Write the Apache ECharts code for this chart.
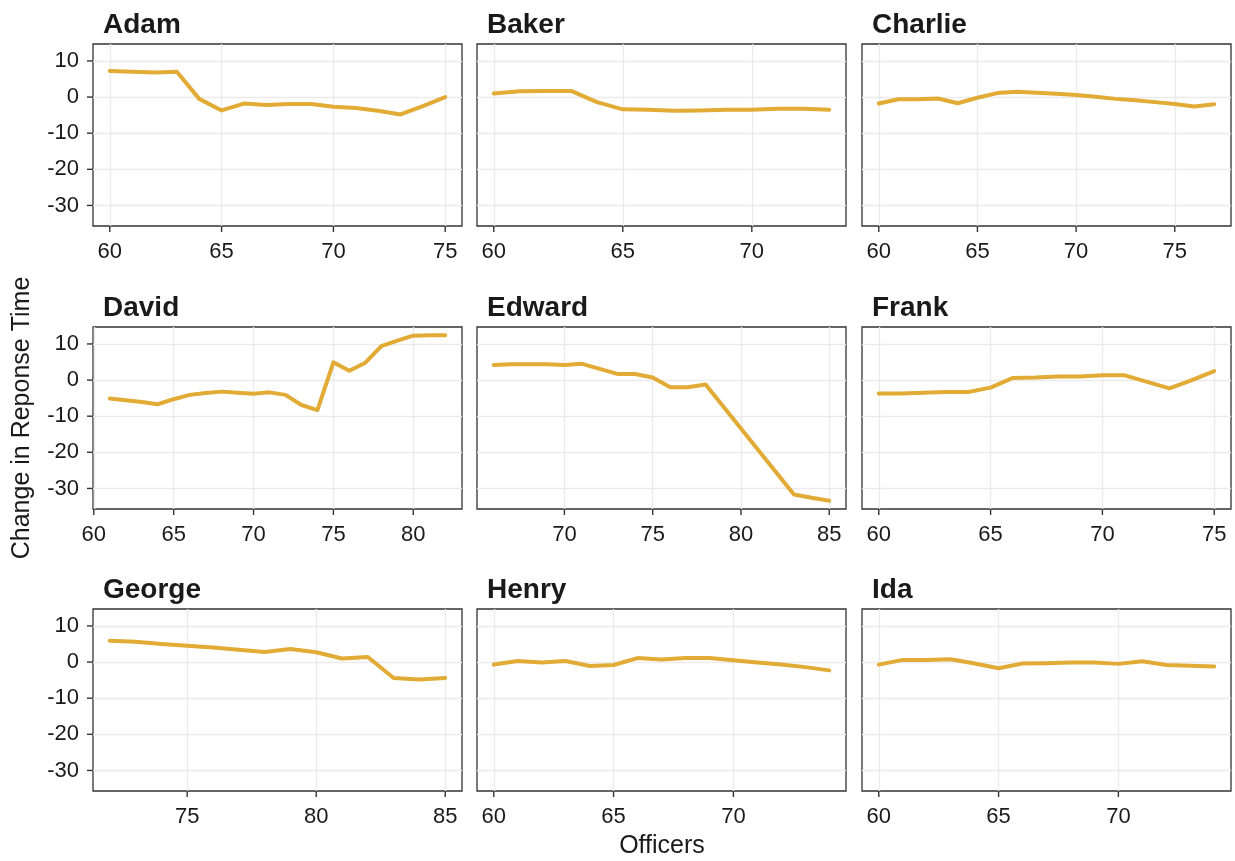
<!DOCTYPE html>
<html>
<head>
<meta charset="utf-8">
<script src="https://cdn.jsdelivr.net/npm/echarts@6/dist/echarts.min.js"></script>
<style>
html,body{margin:0;padding:0;background:#fff;}
#chart{width:1235px;height:861px;}
</style>
</head>
<body>
<div id="chart"></div>
<script>
// ---- data ----
const officers = ['Adam','Baker','Charlie','David','Edward','Frank','George','Henry','Ida'];

const adamX = [60,61,62,63,64,65,66,67,68,69,70,71,72,73,74,75];
const adamY = [7.2,7.0,6.8,7.0,-0.5,-3.7,-1.8,-2.2,-1.9,-1.9,-2.7,-3.0,-3.8,-4.8,-2.5,0.0];

const bakerX = [60,61,62,63,64,65,66,67,68,69,70,71,72,73];
const bakerY = [1.0,1.6,1.7,1.7,-1.4,-3.4,-3.5,-3.8,-3.7,-3.5,-3.5,-3.2,-3.2,-3.5];

const charlieX = [60,61,62,63,64,65,66,67,68,69,70,71,72,73,74,75,76,77];
const charlieY = [-1.8,-0.6,-0.6,-0.4,-1.7,-0.2,1.1,1.5,1.2,0.9,0.6,0.1,-0.5,-0.9,-1.4,-1.9,-2.6,-2.0];

const davidX = [61,62,63,64,65,66,67,68,69,70,71,72,73,74,75,76,77,78,79,80,81,82];
const davidY = [-5.1,-5.6,-6.1,-6.7,-5.3,-4.1,-3.6,-3.2,-3.5,-3.8,-3.4,-4.1,-6.9,-8.3,4.9,2.6,4.8,9.4,10.9,12.3,12.4,12.4];

const edwardX = [66,67,68,69,70,71,72,73,74,75,76,77,78,79,80,81,82,83,84,85];
const edwardY = [4.2,4.4,4.4,4.4,4.2,4.5,3.1,1.7,1.7,0.7,-2.0,-2.0,-1.2,-7.3,-13.4,-19.5,-25.6,-31.7,-32.6,-33.4];

const frankX = [60,61,62,63,64,65,66,67,68,69,70,71,72,73,74,75];
const frankY = [-3.7,-3.7,-3.5,-3.3,-3.3,-2.1,0.6,0.7,1.0,1.0,1.3,1.3,-0.5,-2.3,0.0,2.5];

const georgeX = [72,73,74,75,76,77,78,79,80,81,82,83,84,85];
const georgeY = [5.9,5.6,5.0,4.5,4.0,3.4,2.8,3.6,2.7,1.0,1.4,-4.4,-4.8,-4.4];

const henryX = [60,61,62,63,64,65,66,67,68,69,70,71,72,73,74];
const henryY = [-0.7,0.3,-0.1,0.3,-1.1,-0.8,1.1,0.7,1.1,1.1,0.5,-0.1,-0.7,-1.4,-2.3];

const idaX = [60,61,62,63,64,65,66,67,68,69,70,71,72,73,74];
const idaY = [-0.7,0.6,0.6,0.8,-0.4,-1.7,-0.4,-0.3,-0.1,-0.1,-0.5,0.2,-0.8,-1.0,-1.2];

// tick labels
const yTicks = [-30,-20,-10,0,10];
const adamTicks = [60,65,70,75];
const bakerTicks = [60,65,70];
const charlieTicks = [60,65,70,75];
const davidTicks = [60,65,70,75,80];
const edwardTicks = [70,75,80,85];
const frankTicks = [60,65,70,75];
const georgeTicks = [75,80,85];
const henryTicks = [60,65,70];
const idaTicks = [60,65,70];

const xTitle = 'Officers';
const yTitle = 'Change in Reponse Time';

// ---- layout ----
const xs = [adamX,bakerX,charlieX,davidX,edwardX,frankX,georgeX,henryX,idaX];
const ys = [adamY,bakerY,charlieY,davidY,edwardY,frankY,georgeY,henryY,idaY];
const xt = [adamTicks,bakerTicks,charlieTicks,davidTicks,edwardTicks,frankTicks,georgeTicks,henryTicks,idaTicks];

const lefts = [93, 477, 862];
const tops = [44, 327, 609];
const W = 369, H = 182;
const FONT = '"Liberation Sans", Arial, sans-serif';
const LINE = '#E1AB35';
const INK = '#333333';
const TICK_LEN = 6;

// shared y range with 5% expansion
let allY = [].concat(...ys);
const yMinD = Math.min(...allY), yMaxD = Math.max(...allY);
const yPad = (yMaxD - yMinD) * 0.05;
const yLo = yMinD - yPad, yHi = yMaxD + yPad;

function tickSeries(i, data, dir) {
  return {type: 'custom', xAxisIndex: i, yAxisIndex: i, silent: true, clip: false, z: 5,
    data: data,
    renderItem: function (params, api) {
      const p = api.coord([api.value(0), api.value(1)]);
      const shape = dir === 'x'
        ? {x1: p[0], y1: p[1], x2: p[0], y2: p[1] + TICK_LEN}
        : {x1: p[0] - TICK_LEN, y1: p[1], x2: p[0], y2: p[1]};
      return {type: 'line', shape: shape, style: {stroke: INK, lineWidth: 1.4}};
    }};
}

const grids = [], xAxes = [], yAxes = [], series = [], graphics = [];
officers.forEach((name, i) => {
  const r = Math.floor(i / 3), c = i % 3;
  grids.push({left: lefts[c], top: tops[r], width: W, height: H, show: true,
    borderColor: INK, borderWidth: 1.3, backgroundColor: 'transparent', containLabel: false});
  const xmin = Math.min(...xs[i]), xmax = Math.max(...xs[i]);
  const pad = (xmax - xmin) * 0.05;
  const xLo = xmin - pad, xHi = xmax + pad;
  xAxes.push({type: 'value', gridIndex: i, min: xLo, max: xHi, position: 'bottom',
    axisLine: {show: false, onZero: false},
    axisTick: {show: false, customValues: xt[i]},
    axisLabel: {show: true, customValues: xt[i], color: '#1a1a1a', fontSize: 22, fontFamily: FONT, margin: 15},
    splitLine: {show: true, lineStyle: {color: '#EBEBEB', width: 1.4}}
  });
  yAxes.push({type: 'value', gridIndex: i, min: yLo, max: yHi, position: 'left',
    axisLine: {show: false, onZero: false},
    axisTick: {show: false, customValues: yTicks},
    axisLabel: {show: c === 0, customValues: yTicks, color: '#1a1a1a', fontSize: 22, fontFamily: FONT, margin: 14},
    splitLine: {show: true, lineStyle: {color: '#EBEBEB', width: 1.4}}
  });
  series.push({type: 'line', xAxisIndex: i, yAxisIndex: i, showSymbol: false, silent: true,
    data: xs[i].map((x, k) => [x, ys[i][k]]),
    lineStyle: {color: LINE, width: 4, cap: 'round', join: 'round'}, z: 3});
  series.push(tickSeries(i, xt[i].map(v => [v, yLo]), 'x'));
  if (c === 0) series.push(tickSeries(i, yTicks.map(v => [xLo, v]), 'y'));
  graphics.push({type: 'text', left: lefts[c] + 10, top: tops[r] - 33,
    style: {text: name, font: 'bold 28px ' + FONT, fill: '#1a1a1a'}});
});

graphics.push({type: 'text', x: 662, y: 846,
  style: {text: xTitle, font: '25px ' + FONT, fill: '#1a1a1a', align: 'center', verticalAlign: 'middle'}});
graphics.push({type: 'text', x: 22, y: 418, rotation: Math.PI / 2,
  style: {text: yTitle, font: '25px ' + FONT, fill: '#1a1a1a', align: 'center', verticalAlign: 'middle'}});

const chart = echarts.init(document.getElementById('chart'), null, {renderer: 'canvas'});
chart.setOption({
  animation: false,
  backgroundColor: '#fff',
  grid: grids, xAxis: xAxes, yAxis: yAxes, series: series, graphic: graphics
});
</script>
</body>
</html>
